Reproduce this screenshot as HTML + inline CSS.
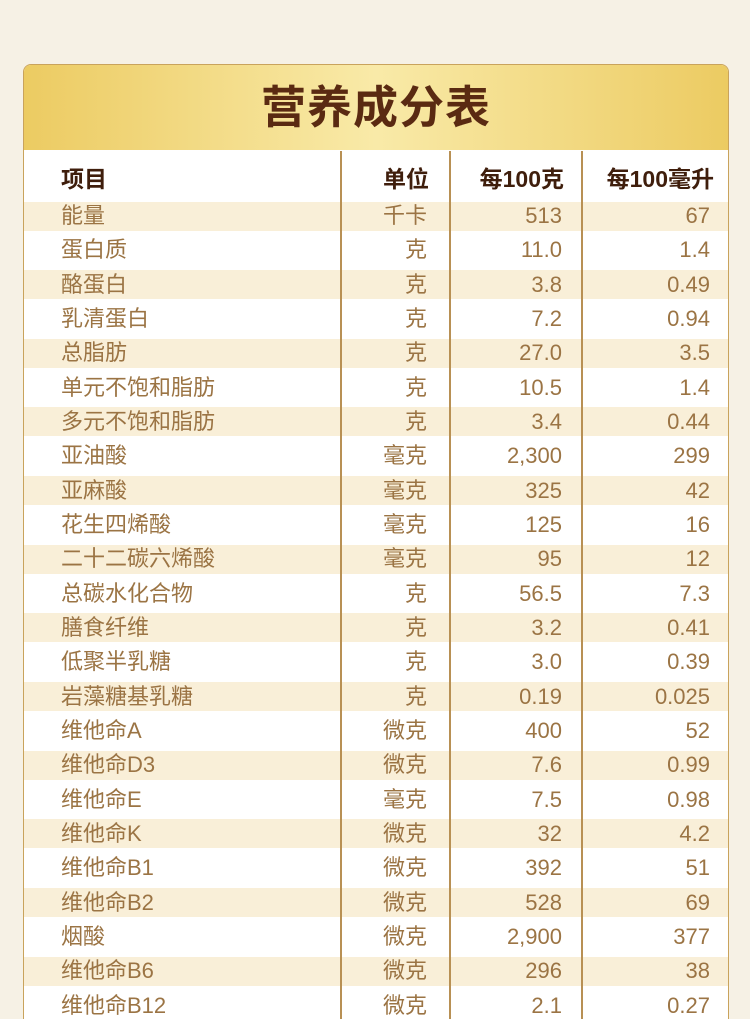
<!DOCTYPE html><html><head><meta charset="utf-8"><style>
html,body{margin:0;width:750px;height:1019px;overflow:hidden}
body{background:#f6f1e5;font-family:"Liberation Sans","Noto Sans CJK SC",sans-serif;position:relative}
.card{position:absolute;left:23px;top:64px;width:704px;height:970px;border:1px solid #c9a35c;border-radius:8px;background:#fff;overflow:hidden}
.hd{height:85px;background:linear-gradient(90deg,#eccb62,#f9eaa8 50%,#eccb62);text-align:center;line-height:85px;font-size:45px;color:#5a2a12;font-weight:bold;letter-spacing:1px}
.vl{position:absolute;top:86px;bottom:0;width:2px;background:#b89054}
.t{position:absolute;font-size:22px;color:#9b7444;white-space:nowrap;line-height:30px}
.h{font-weight:bold;color:#3f1e0c;font-size:23px}
.band{position:absolute;left:0;width:704px;height:29px;background:#f9efd8}
</style></head><body><div class="card"><div class="hd">营养成分表</div><div id="rows"></div>
<div class="vl" style="left:316px"></div><div class="vl" style="left:425px"></div><div class="vl" style="left:557px"></div>
<div class="t h" style="left:37px;top:99px">项目</div>
<div class="t h" style="right:299px;top:99px">单位</div>
<div class="t h" style="right:164px;top:99px">每100克</div>
<div class="t h" style="right:14px;top:99px">每100毫升</div>
</div>
<script>
var d=[["能量","千卡","513","67"],["蛋白质","克","11.0","1.4"],["酪蛋白","克","3.8","0.49"],["乳清蛋白","克","7.2","0.94"],["总脂肪","克","27.0","3.5"],["单元不饱和脂肪","克","10.5","1.4"],["多元不饱和脂肪","克","3.4","0.44"],["亚油酸","毫克","2,300","299"],["亚麻酸","毫克","325","42"],["花生四烯酸","毫克","125","16"],["二十二碳六烯酸","毫克","95","12"],["总碳水化合物","克","56.5","7.3"],["膳食纤维","克","3.2","0.41"],["低聚半乳糖","克","3.0","0.39"],["岩藻糖基乳糖","克","0.19","0.025"],["维他命A","微克","400","52"],["维他命D3","微克","7.6","0.99"],["维他命E","毫克","7.5","0.98"],["维他命K","微克","32","4.2"],["维他命B1","微克","392","51"],["维他命B2","微克","528","69"],["烟酸","微克","2,900","377"],["维他命B6","微克","296","38"],["维他命B12","微克","2.1","0.27"]];
var h="";d.forEach(function(r,i){var c=215+i*34.33-64;var top=c-15;
if(i%2==0)h+='<div class="band" style="top:'+(c-14.5)+'px"></div>';
h+='<div class="t" style="left:37px;top:'+top+'px">'+r[0]+'</div><div class="t" style="right:301px;top:'+top+'px">'+r[1]+'</div><div class="t" style="right:166px;top:'+top+'px">'+r[2]+'</div><div class="t" style="right:18px;top:'+top+'px">'+r[3]+'</div>';});
document.getElementById("rows").innerHTML=h;
</script></body></html>
